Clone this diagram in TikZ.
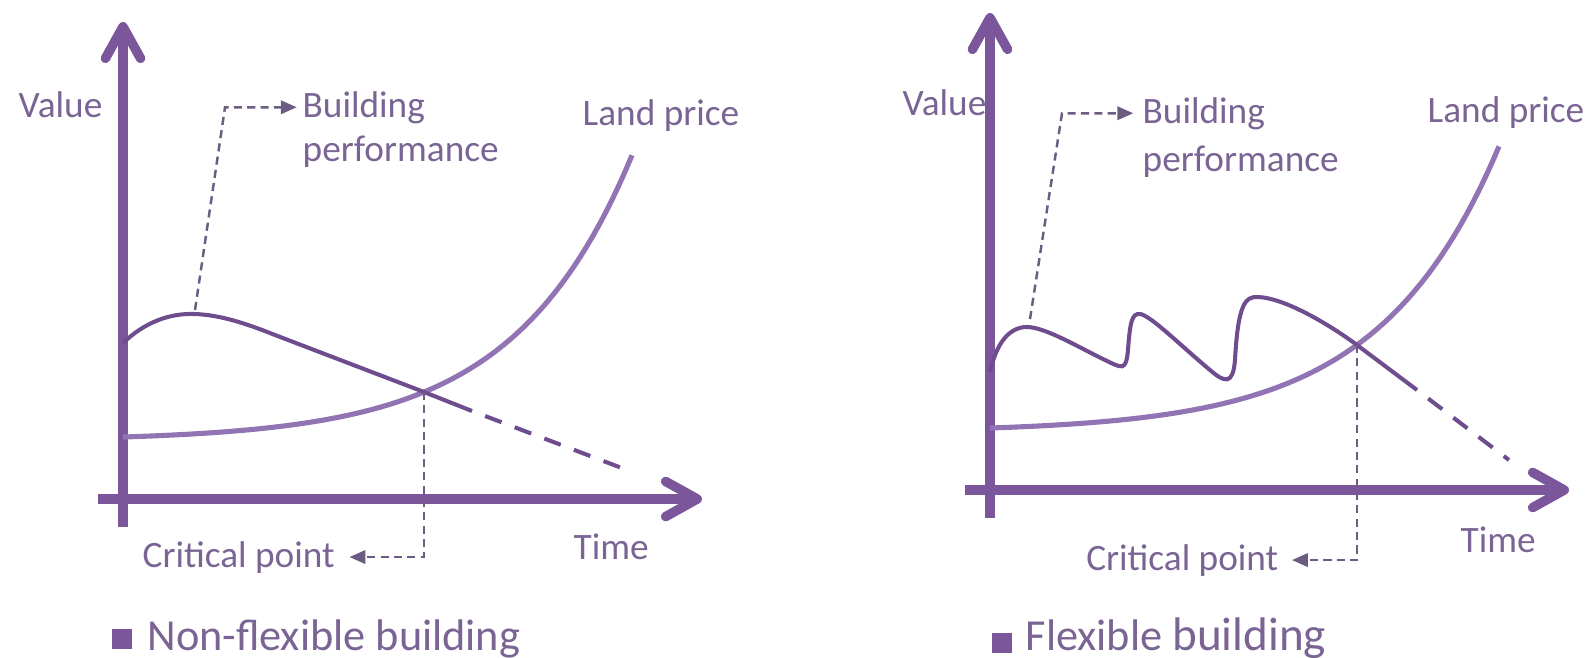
\documentclass[tikz,border=0pt]{standalone}
\usepackage{fontspec}
\setmainfont{Carlito}
\usetikzlibrary{arrows.meta}
\definecolor{axiscol}{RGB}{123,86,155}
\definecolor{perfcol}{RGB}{110,76,142}
\definecolor{landcol}{RGB}{146,116,180}
\definecolor{textcol}{RGB}{122,100,148}
\definecolor{leadcol}{RGB}{108,92,130}
\tikzset{
	axis/.style={line width=2.7pt,draw=axiscol,-{Straight Barb[length=9pt,width=10pt,round]}},
	perf/.style={line width=1.15pt,draw=perfcol},
	land/.style={line width=1.45pt,draw=landcol},
	lead/.style={line width=0.7pt,draw=leadcol,dash pattern=on 2.3pt off 1.5pt},
	leadtip/.style={-{Triangle[length=4.5pt,width=3.8pt]}},
	lbl/.style={text=textcol,font=\fontsize{10.6}{12}\selectfont,inner sep=0pt,anchor=base west},
	legend/.style={text=textcol,font=\fontsize{12.6}{14}\selectfont,inner sep=0pt,anchor=base west},
	legbox/.style={fill=axiscol,minimum size=5.8pt,inner sep=0pt}
}
\begin{document}
\begin{tikzpicture}[x=0.01cm,y=-0.01cm]
	\useasboundingbox (0,0) rectangle (1587,657);
	% non-flexible
	\coordinate (ya1) at (123,527);
	\coordinate (yb1) at (123,22);
	\coordinate (xa1) at (98,499);
	\coordinate (xb1) at (702,499);
	\coordinate (p1s) at (123,343);
	\coordinate (p1m) at (195,314);
	\coordinate (cr1) at (424,392);
	\coordinate (p1e) at (472,411);
	\coordinate (p1d) at (627,470);
	\coordinate (k1) at (225,110);
	\coordinate (t1) at (195,310);
	\draw[axis] (ya1) -- (yb1);
	\draw[axis] (xa1) -- (xb1);
	\draw[land] plot[domain=123:632,samples=80] (\x,{437-3.775*(exp(0.0085*(\x-123))-1)});
	\draw[perf] (p1s) .. controls (145,322) and (170,313) .. (p1m) .. controls (220,315) and (245,323) .. (275,335) -- (cr1) -- (p1e);
	\draw[perf,dash pattern=on 5pt off 4pt,dash phase=5pt] (p1e) -- (p1d);
	\node[lbl] (val1) at (18,117) {Value};
	\node[lbl] (bp1) at (302,117) {Building};
	\node[lbl] (bq1) at (302,161) {performance};
	\node[lbl] (lp1) at (582,125) {Land price};
	\node[lbl] (cp1) at (142,567) {Critical point};
	\node[lbl] (tm1) at (573,559) {Time};
	\draw[lead,leadtip,shorten >=1.5pt] (t1) -- (k1 |- bp1.west) -- (bp1.west);
	\draw[lead,leadtip,shorten >=4pt] (cr1) -- (cr1 |- cp1.east) -- (cp1.east);
	\node[legbox] (sq1) at (122,639) {};
	\node[legend] (lg1) at (147,650) {Non-flexible building};
	% flexible
	\coordinate (ya2) at (990,518);
	\coordinate (yb2) at (990,13);
	\coordinate (xa2) at (965,490);
	\coordinate (xb2) at (1569,490);
	\coordinate (p2s) at (990,372);
	\coordinate (p2m) at (1027,327);
	\coordinate (cr2) at (1357,345);
	\coordinate (p2e) at (1417,390);
	\coordinate (p2d) at (1509,460);
	\coordinate (k2) at (1062,118);
	\coordinate (t2) at (1030,319);
	\draw[axis] (ya2) -- (yb2);
	\draw[axis] (xa2) -- (xb2);
	\draw[land] plot[domain=990:1499,samples=80] (\x,{428-4.05*(exp(0.00836*(\x-990))-1)});
	\draw[perf] (p2s) .. controls (996,345) and (1008,327) .. (p2m)
		.. controls (1045,327) and (1080,348) .. (1105,360)
		.. controls (1122,368) and (1126,372) .. (1128,350)
		.. controls (1130,322) and (1132,313) .. (1140,314)
		.. controls (1150,315) and (1180,345) .. (1210,370)
		.. controls (1225,383) and (1233,385) .. (1235,360)
		.. controls (1238,305) and (1245,296) .. (1258,297)
		.. controls (1285,298) and (1330,325) .. (cr2) -- (p2e);
	\draw[perf,dash pattern=on 5pt off 4pt,dash phase=5pt] (p2e) -- (p2d);
	\node[lbl] (val2) at (902,115) {Value};
	\node[lbl] (bp2) at (1142,123) {Building};
	\node[lbl] (bq2) at (1142,171) {performance};
	\node[lbl] (lp2) at (1427,122) {Land price};
	\node[lbl,anchor=base east] (cp2) at (1279,570) {Critical point};
	\node[lbl] (tm2) at (1460,552) {Time};
	\draw[lead,leadtip,shorten >=2.5pt] (t2) -- (k2 |- bp2.west) -- (bp2.west);
	\draw[lead,leadtip,shorten >=3.7pt] (cr2) -- (cr2 |- cp2.east) -- (cp2.east);
	\node[legbox] (sq2) at (1002,643) {};
	\node[legend] (lg2) at (1025,650) {Flexible {\fontsize{13.4}{15}\selectfont building}};
\end{tikzpicture}
\end{document}
